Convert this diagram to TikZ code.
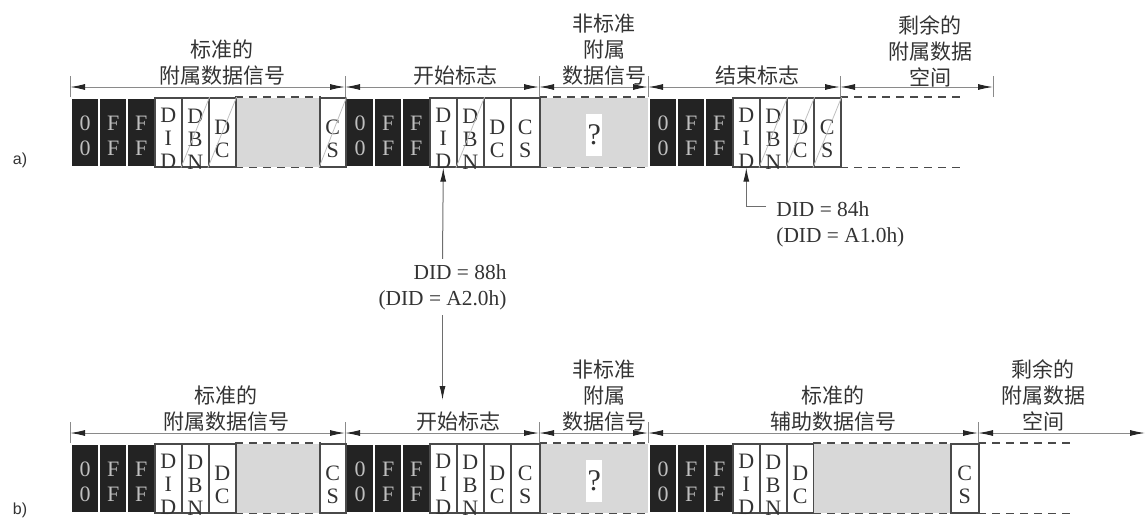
\documentclass[tikz,border=0pt]{standalone}
\usepackage{fontspec}
\setmainfont{Liberation Serif}
\setsansfont{Liberation Sans}
\newfontfamily\cjk{Noto Sans CJK SC}
\usepackage{tikz}
\usetikzlibrary{arrows.meta}

\definecolor{blkfill}{HTML}{232323}
\definecolor{gapfill}{HTML}{D8D8D8}
\definecolor{edge}{HTML}{4A4A4A}
\definecolor{dimln}{HTML}{8A8A8A}
\definecolor{ink}{HTML}{333333}

\begin{document}
\begin{tikzpicture}[x=0.5pt,y=-0.5pt]
  \tikzstyle{cell}=[draw=edge,line width=0.8pt,rectangle,anchor=north west,inner sep=0pt,minimum height=34.5pt,minimum width=13.5pt]
  \tikzstyle{blk}=[cell,fill=blkfill,draw=white,line width=1.2pt,minimum width=14pt]
  \tikzstyle{gaparea}=[cell,draw=none,fill=gapfill]
  \tikzstyle{ctxt}=[font=\fontsize{11}{11.5}\selectfont,text=ink,align=center,inner sep=0pt,yshift=-3.25pt]
  \tikzstyle{btxt}=[font=\fontsize{11}{12.5}\selectfont,text=black!25,align=center,inner sep=0pt,yshift=-1.5pt]
  \tikzstyle{qbox}=[fill=white,inner sep=0pt,minimum width=8pt,minimum height=21pt,font=\fontsize{15}{15}\selectfont,text=ink]
  \tikzstyle{lab}=[font=\cjk\fontsize{10.5}{13}\selectfont,text=ink,align=center,anchor=south,inner sep=0pt]
  \tikzstyle{didlab}=[font=\fontsize{10.7}{13}\selectfont,text=ink,inner sep=2.5pt]
  \tikzstyle{dimarr}=[{Latex[length=7.5pt,width=3pt,color=black!85]}-{Latex[length=7.5pt,width=3pt,color=black!85]},draw=dimln,line width=0.5pt]
  \tikzstyle{tickln}=[draw=dimln,line width=0.5pt]
  \tikzstyle{dashln}=[draw=edge,dash pattern=on 4pt off 3pt,line width=0.8pt]
  \tikzstyle{diag}=[draw=black!25,line width=0.4pt]
  \tikzstyle{arr}=[-{Latex[length=7pt,width=3pt,color=black!85]},draw=dimln!80!black,line width=0.5pt]
  \useasboundingbox (0,0) rectangle (1146,520);

  % Both rows: packets 1 and 2, head of packet 3
  \foreach \rw/\y in {a/97,b/443}{
    % grey gaps first
    \node[gaparea,minimum width=42pt] (\rw1gap) at (235,\y) {};
    \draw[dashln] (\rw1gap.north west) -- (\rw1gap.north east);
    \draw[dashln] (\rw1gap.south west) -- (\rw1gap.south east);
    \node[gaparea,minimum width=54.5pt] (\rw2gap) at (539,\y) {};
    \draw[dashln] (\rw2gap.north west) -- (\rw2gap.north east);
    \draw[dashln] (\rw2gap.south west) -- (\rw2gap.south east);
    \node[qbox] (\rw2q) at ([yshift=-1.25pt]\rw2gap.center) {?};
    \foreach \gr/\x in {1/70,2/345,3/648}{
      \node[blk] (\rw\gr z) at (\x,\y) {};
      \node[blk] (\rw\gr f) at (\x+28,\y) {};
      \node[blk] (\rw\gr g) at (\x+56,\y) {};
      \node[btxt] at (\rw\gr z.center) {0\\0};
      \node[btxt] at (\rw\gr f.center) {F\\F};
      \node[btxt] at (\rw\gr g.center) {F\\F};
      \node[cell] (\rw\gr did) at (\x+84,\y) {};
      \node[cell] (\rw\gr dbn) at (\x+111,\y) {};
      \node[cell] (\rw\gr dc) at (\x+138,\y) {};
      \node[ctxt] at (\rw\gr did.center) {D\\I\\D};
      \node[ctxt] at (\rw\gr dbn.center) {D\\B\\N};
      \node[ctxt] at (\rw\gr dc.center) {D\\C};
    }
    \node[cell,minimum width=13pt] (\rw1cs) at (319,\y) {};
    \node[ctxt] at (\rw1cs.center) {C\\S};
    \node[cell,minimum width=14.5pt] (\rw2cs) at (510,\y) {};
    \node[ctxt] at (\rw2cs.center) {C\\S};
    % dimension lines
    \foreach \p in {1z,2z,2gap,3z}
      \draw[tickln] (\rw\p.north west) -- ++(0,-21);
    \draw[dimarr] ([yshift=5pt]\rw1z.north west) -- ([yshift=5pt]\rw2z.north west);
    \draw[dimarr] ([yshift=5pt]\rw2z.north west) -- ([yshift=5pt]\rw2gap.north west);
    \draw[dimarr] ([yshift=5pt]\rw2gap.north west) -- ([yshift=5pt]\rw3z.north west);
  }

  % Row a: end marker
  \node[cell] (a3cs) at (813,97) {};
  \node[ctxt] at (a3cs.center) {C\\S};
  \node[cell,draw=none,minimum width=60pt] (a3rest) at (840,97) {};
  \draw[dashln] (a3rest.north west) -- (a3rest.north east);
  \draw[dashln] (a3rest.south west) -- (a3rest.south east);
  \coordinate (a3lim) at (993,97);
  \draw[tickln] (a3rest.north west) -- ++(0,-21);
  \draw[tickln] (a3lim) -- ++(0,-21);
  \draw[dimarr] ([yshift=5pt]a3z.north west) -- ([yshift=5pt]a3rest.north west);
  \draw[dimarr] ([yshift=5pt]a3rest.north west) -- ([yshift=5pt]a3lim);
  \foreach \c in {a1dbn,a1dc,a1cs,a2dbn,a3dbn,a3dc,a3cs}
    \draw[diag] (\c.south west) -- (\c.north east);

  % Row b: standard ancillary packet
  \node[gaparea,minimum width=68.5pt] (b3gap) at (813,443) {};
  \draw[dashln] (b3gap.north west) -- (b3gap.north east);
  \draw[dashln] (b3gap.south west) -- (b3gap.south east);
  \node[cell,minimum width=14pt] (b3cs) at (950,443) {};
  \node[ctxt] at (b3cs.center) {C\\S};
  \node[cell,draw=none,minimum width=47pt] (b3rest) at (978,443) {};
  \draw[dashln] (b3rest.north west) -- (b3rest.north east);
  \draw[dashln] (b3rest.south west) -- (b3rest.south east);
  \coordinate (blim) at (1145,443);
  \draw[tickln] (b3rest.north west) -- ++(0,-21);
  \draw[dimarr] ([yshift=5pt]b3z.north west) -- ([yshift=5pt]b3rest.north west);
  \draw[dimarr] ([yshift=5pt]b3rest.north west) -- ([yshift=5pt]blim);

  % Labels
  \node[lab] (a1lab) at (222,86) {标准的\\附属数据信号};
  \node[lab] (a2lab) at (455,86) {开始标志};
  \node[lab] (a2xlab) at (604,86) {非标准\\附属\\数据信号};
  \node[lab] (a3lab) at (757,86) {结束标志};
  \node[lab] (a3xlab) at (930,88) {剩余的\\附属数据\\空间};
  \node[lab] (b1lab) at (226,432) {标准的\\附属数据信号};
  \node[lab] (b2lab) at (458,432) {开始标志};
  \node[lab] (b2xlab) at (604,432) {非标准\\附属\\数据信号};
  \node[lab] (b3lab) at (833,432) {标准的\\辅助数据信号};
  \node[lab] (b3xlab) at (1043,432) {剩余的\\附属数据\\空间};
  \node[font=\sffamily\fontsize{8}{8}\selectfont,text=ink] (rowa) at (20,160) {a)};
  \node[font=\sffamily\fontsize{8}{8}\selectfont,text=ink] (rowb) at (20,510) {b)};

  % DID pointers
  \node[didlab,align=right] (did88) at (442.5,287) {DID = 88h\\(DID = A2.0h)};
  \coordinate (b2tip) at (442.5,400);
  \draw[arr] (did88.north) -- (a2did.south);
  \draw[arr] (did88.south) -- (b2tip);
  \node[didlab,align=left,anchor=west] (did84) at (771,224) {DID = 84h\\(DID = A1.0h)};
  \coordinate (k84) at (766,206);
  \draw[arr] (k84) -| (a3did.south);
\end{tikzpicture}
\end{document}
